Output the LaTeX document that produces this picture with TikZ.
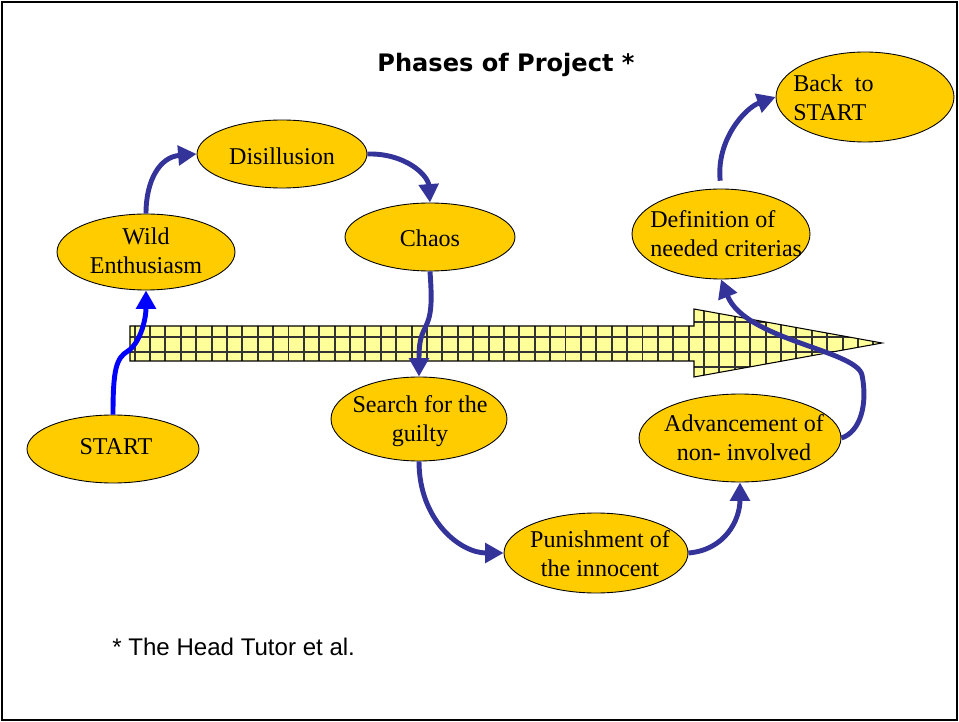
\documentclass[tikz,border=0pt]{standalone}
\usepackage{fontspec}
\setmainfont{Liberation Serif}
\newfontfamily\titlefont{DejaVu Sans}
\newfontfamily\notefont{Liberation Sans}
\usetikzlibrary{arrows.meta,shapes.geometric}

\definecolor{phaseyellow}{RGB}{255,204,0}
\definecolor{gridyellow}{RGB}{255,255,153}
\definecolor{flowblue}{RGB}{51,51,153}

\tikzset{
  phase/.style={shape=ellipse, draw=black, line width=0.5pt, fill=phaseyellow, inner sep=0pt},
  phasetext/.style={align=center, inner sep=0pt, font=\fontsize{13.7}{16.5}\selectfont},
  flow/.style={line width=2.8pt, draw=flowblue, -{Triangle[length=10.5pt,width=11pt]}},
  gridline/.style={line width=1.1pt, draw=black!80},
}

\begin{document}
\begin{tikzpicture}[x=0.02cm, y=-0.02cm]
    \useasboundingbox (0,0) rectangle (959,722);
    \draw[line width=1.1pt] (2,2) rectangle (957,720);   % frame

    % timeline arrow
    \begin{scope}
        \clip (130,326) -- (694,326) -- (694,309) -- (882,343) -- (694,377) -- (694,361) -- (130,361) -- cycle;
        \fill[gridyellow] (125,300) rectangle (890,390);
        \foreach \i in {0,...,49}
            \draw[gridline] ({134.6+15.39*\i},300) -- ++(0,90);
        \foreach \y in {307,322,337,352,367}
            \draw[gridline] (125,\y) -- (890,\y);
    \end{scope}
    \draw[line width=0.6pt] (130,326) -- (694,326) -- (694,309) -- (882,343) -- (694,377) -- (694,361) -- (130,361) -- cycle;

    \node[font=\titlefont\bfseries\fontsize{13.7}{16}\selectfont] (title) at (506,65) {Phases of Project *};
    \node[anchor=west, inner sep=0pt, font=\notefont\fontsize{13.7}{16}\selectfont] (note) at (112,647) {* The Head Tutor et al.};

    % phases
    \node[phase, minimum width=3.44cm, minimum height=1.36cm] (start) at (113,449) {};
    \node[phasetext] (starttxt) at (116,447) {START};
    \node[phase, minimum width=3.56cm, minimum height=1.52cm] (wild) at (146,252) {};
    \node[phasetext] (wildtxt) at (146,251) {Wild\\Enthusiasm};
    \node[phase, minimum width=3.40cm, minimum height=1.36cm] (disil) at (282,154) {};
    \node[phasetext] (disiltxt) at (282,156) {Disillusion};
    \node[phase, minimum width=3.40cm, minimum height=1.36cm] (chaos) at (430,237) {};
    \node[phasetext] (chaostxt) at (430,238) {Chaos};
    \node[phase, minimum width=3.52cm, minimum height=1.68cm] (search) at (419,419) {};
    \node[phasetext] (searchtxt) at (420,421) {Search for the\\guilty};
    \node[phase, minimum width=3.68cm, minimum height=1.60cm] (punish) at (596,553) {};
    \node[phasetext] (punishtxt) at (600,554) {Punishment of\\the innocent};
    \node[phase, minimum width=4.04cm, minimum height=1.76cm] (advance) at (740,438) {};
    \node[phasetext] (advancetxt) at (744,438) {Advancement of\\non- involved};
    \node[phase, minimum width=3.56cm, minimum height=1.80cm] (define) at (721,234) {};
    \node[phasetext, align=left, anchor=west] (definetxt) at (650,234) {Definition of\\needed criterias};
    \node[phase, minimum width=3.56cm, minimum height=1.80cm] (back) at (865,97) {};
    \node[phasetext, align=left, anchor=west] (backtxt) at (793,98) {Back\ \ to\\START};

    % flow
    \draw[flow, draw=blue] (start.north) .. controls (113,370) and (116,358) .. (128,351)
        .. controls (140,343) and (146,320) .. (wild.south);
    \draw[flow] (wild.north) .. controls (146,180) and (160,157) .. (disil.west);
    \draw[flow] (disil.east) .. controls (405,153) and (428,175) .. (chaos.north);
    \draw[flow] (chaos.south) .. controls (432,300) and (432,315) .. (425,328)
        .. controls (420,338) and (419,345) .. (search.north);
    \draw[flow] (search.south) .. controls (419,520) and (460,553) .. (punish.west);
    \draw[flow] (punish.east) .. controls (725,550) and (740,520) .. (advance.south);
    \draw[flow] (advance.east) .. controls (860,432) and (868,405) .. (862,375)
        .. controls (856,350) and (745,340) .. (define.south);
    \draw[flow, shorten <=4.5pt] (define.north) .. controls (716,140) and (745,108) .. (back.west);
\end{tikzpicture}
\end{document}
